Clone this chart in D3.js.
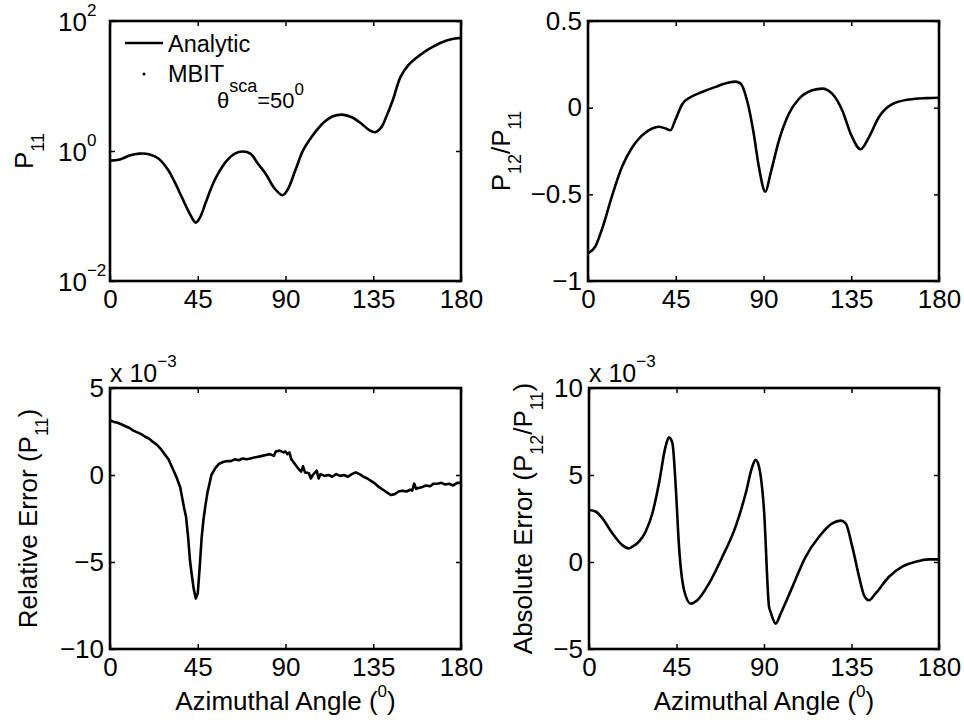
<!DOCTYPE html>
<html>
<head>
<meta charset="utf-8">
<script src="https://cdn.jsdelivr.net/npm/d3@7"></script>
<style>
  body { margin: 0; background: #fff; }
  svg { display: block; }
</style>
</head>
<body>
<svg id="chart" width="964" height="725"></svg>
<script>
// x ticks shared by all four panels
const angleTicks = [0, 45, 90, 135, 180];

// P11 (log scale)
const p11Angle = [0, 5, 10, 15, 20, 25, 30, 33, 37, 41, 44, 46, 49, 52, 55, 60, 64, 68, 72, 76, 80, 84, 88.5, 91, 95, 99, 103, 106, 110, 114, 119, 124, 129, 133, 136, 139, 142, 145, 149, 153, 157, 162, 166, 170, 175, 180];
const p11Value = [0.71, 0.74, 0.85, 0.91, 0.89, 0.76, 0.50, 0.34, 0.19, 0.107, 0.079, 0.093, 0.158, 0.275, 0.427, 0.72, 0.91, 0.98, 0.91, 0.63, 0.44, 0.275, 0.209, 0.251, 0.50, 1.02, 1.58, 2.09, 2.82, 3.39, 3.63, 3.31, 2.63, 2.09, 1.95, 2.29, 3.55, 6.03, 13.8, 20.9, 26.9, 34.7, 40.7, 46.8, 52.5, 55.0];
const p11Ticks = [0.01, 1, 100];
const p11Exp = ['\u22122', '0', '2'];

// P12/P11
const ratioAngle = [0, 3.8, 7.2, 12.3, 17.5, 22.6, 27.7, 32.9, 36.3, 39.7, 42.3, 44.8, 48.3, 52.5, 58.5, 65.4, 72.2, 75.6, 78.2, 81.6, 85, 87.6, 91, 93.6, 97.9, 103, 108.1, 115, 120.1, 125.3, 130.4, 134.7, 139.8, 144.1, 149.2, 156, 164.6, 173.2, 180];
const ratioValue = [-0.84, -0.80, -0.70, -0.51, -0.34, -0.23, -0.16, -0.12, -0.11, -0.12, -0.13, -0.07, 0.02, 0.06, 0.09, 0.12, 0.145, 0.15, 0.14, 0.04, -0.15, -0.34, -0.485, -0.38, -0.19, -0.035, 0.05, 0.10, 0.11, 0.08, -0.016, -0.15, -0.24, -0.17, -0.054, 0.02, 0.047, 0.055, 0.057];
const ratioTicks = [-1, -0.5, 0, 0.5];

// relative error of P11, in units of 1e-3
const relAngle = [0, 2, 4, 6, 8, 10, 12, 14, 16, 18, 20, 22, 24, 26, 28, 30, 32, 34, 36, 37, 38, 39, 40, 41, 42, 43, 44, 45, 46, 47, 48, 49, 50, 51, 52, 54, 56, 58, 60, 62, 64, 66, 68, 70, 72, 74, 76, 78, 80, 82, 84, 85, 87, 89, 90, 91, 92, 93, 95, 97, 98, 99, 100, 102, 103, 104, 106, 107, 108, 110, 112, 114, 116, 118, 120, 122, 124, 126, 128, 130, 132, 134, 136, 138, 140, 142, 144, 146, 148, 150, 152, 154, 155, 156, 157, 158, 160, 162, 164, 166, 168, 170, 172, 174, 176, 178, 180];
const relValue = [3.15, 3.05, 3.0, 2.9, 2.8, 2.7, 2.55, 2.45, 2.35, 2.2, 2.1, 1.9, 1.75, 1.5, 1.2, 0.9, 0.4, -0.1, -0.7, -1.3, -1.9, -2.4, -3.5, -4.9, -5.8, -6.6, -7.1, -6.8, -5.3, -3.6, -2.5, -1.7, -1.0, -0.5, 0.0, 0.4, 0.65, 0.75, 0.8, 0.8, 0.9, 0.85, 0.95, 0.9, 0.95, 1.0, 1.05, 1.1, 1.15, 1.2, 1.1, 1.35, 1.4, 1.3, 1.35, 1.2, 1.3, 0.9, 0.6, 0.3, 0.2, 0.5, 0.15, 0.1, -0.2, 0.0, 0.25, -0.2, 0.05, -0.05, 0.0, -0.1, 0.05, -0.05, 0.0, -0.1, 0.05, 0.15, 0.05, -0.1, -0.2, -0.35, -0.5, -0.7, -0.85, -1.0, -1.15, -1.1, -0.95, -0.9, -0.95, -0.85, -0.9, -0.5, -0.8, -0.75, -0.7, -0.6, -0.65, -0.5, -0.5, -0.45, -0.55, -0.5, -0.6, -0.45, -0.45];
const relTicks = [-10, -5, 0, 5];

// absolute error of P12/P11, in units of 1e-3
const absAngle = [0, 3.4, 6.9, 12, 17.1, 20.6, 22.3, 25.7, 29.1, 32.6, 36, 39.4, 41.1, 42.9, 44.6, 46.3, 48.9, 52.3, 55.7, 61.7, 68.6, 75.4, 80.6, 84, 85.7, 87.4, 90, 92.6, 93.4, 96, 98.6, 104.6, 111.4, 118.3, 125.1, 129.4, 132, 135.4, 138.9, 141.4, 144, 147.4, 154.3, 161.1, 168, 174.9, 180];
const absValue = [2.99, 2.9, 2.51, 1.65, 0.97, 0.78, 0.88, 1.17, 1.74, 2.8, 4.53, 6.64, 7.16, 6.83, 4.34, 0.88, -1.62, -2.39, -2.2, -1.24, 0.3, 2.03, 3.95, 5.49, 5.87, 5.49, 2.99, -2.58, -2.87, -3.54, -2.96, -1.43, 0.3, 1.45, 2.22, 2.38, 2.22, 0.88, -0.85, -1.9, -2.2, -1.81, -0.85, -0.27, 0.01, 0.15, 0.15];
const absTicks = [-5, 0, 5, 10];

const FONT = '"Liberation Sans", Arial, Helvetica, sans-serif';
const svg = d3.select('#chart');

// text made of runs, each run may be raised (sup) or lowered (sub)
function richText(parent, parts, size) {
  const t = parent.append('text')
    .attr('font-family', FONT).attr('font-size', size)
    .attr('fill', '#000').attr('text-anchor', 'start');
  let shift = 0;
  parts.forEach(p => {
    const s = p.shift || 0;
    t.append('tspan')
      .attr('dy', s - shift)
      .attr('font-size', p.size || size)
      .text(p.t);
    shift = s;
  });
  return t;
}

function drawPanel(p) {
  const x = d3.scaleLinear().domain([0, 180]).range([p.left, p.right]);
  const y = (p.log ? d3.scaleLog() : d3.scaleLinear()).domain(p.yDomain).range([p.bottom, p.top]);
  const g = svg.append('g');
  const none = () => '';

  g.append('g').attr('transform', `translate(0,${p.bottom})`)
    .call(d3.axisBottom(x).tickValues(angleTicks).tickFormat(d3.format('d'))
      .tickSizeInner(-5).tickSizeOuter(0).tickPadding(9));
  g.append('g').attr('transform', `translate(0,${p.top})`)
    .call(d3.axisTop(x).tickValues(angleTicks).tickFormat(none).tickSizeInner(-5).tickSizeOuter(0));
  const left = g.append('g').attr('transform', `translate(${p.left},0)`)
    .call(d3.axisLeft(y).tickValues(p.yTicks).tickFormat(p.log ? none : d3.format(''))
      .tickSizeInner(-5).tickSizeOuter(0).tickPadding(6));
  g.append('g').attr('transform', `translate(${p.right},0)`)
    .call(d3.axisRight(y).tickValues(p.yTicks).tickFormat(none).tickSizeInner(-5).tickSizeOuter(0));

  g.selectAll('.domain').remove();
  g.selectAll('.tick line').attr('stroke', '#000').attr('stroke-width', 1.5);
  g.selectAll('.tick text').attr('font-family', FONT).attr('font-size', 26).attr('fill', '#000');

  if (p.log) {
    left.selectAll('.tick').each(function (d, i) {
      richText(d3.select(this), [{ t: '10' }, { t: p11Exp[i], size: 17, shift: -15 }], 26)
        .attr('x', 58 - p.left).attr('y', 9);
    });
  }

  const line = d3.line()
    .x(d => x(d[0]))
    .y(d => y(d[1]))
    .curve(p.curve);
  g.append('path')
    .datum(d3.zip(p.xs, p.ys))
    .attr('d', line)
    .attr('fill', 'none')
    .attr('stroke', '#000')
    .attr('stroke-width', 2.6)
    .attr('stroke-linejoin', 'round');

  g.append('rect')
    .attr('x', p.left).attr('y', p.top)
    .attr('width', p.right - p.left).attr('height', p.bottom - p.top)
    .attr('fill', 'none').attr('stroke', '#000').attr('stroke-width', 2.6);

  // y label, rotated
  richText(g, p.yLabel, 26)
    .attr('text-anchor', 'middle')
    .attr('transform', `translate(${p.yLabelX},${(p.top + p.bottom) / 2}) rotate(-90)`);

  if (p.xLabel) {
    richText(g, [{ t: 'Azimuthal Angle (' }, { t: '0', size: 17, shift: -13 }, { t: ')' }], 26)
      .attr('text-anchor', 'middle')
      .attr('x', (p.left + p.right) / 2).attr('y', 710);
  }
  if (p.scaleNote) {
    richText(g, [{ t: 'x 10' }, { t: '\u22123', size: 17, shift: -15 }], 25)
      .attr('x', p.left).attr('y', 382);
  }
  return { x, y, g };
}

const top1 = drawPanel({
  left: 110, right: 461, top: 21, bottom: 281,
  log: true, yDomain: [0.01, 100], yTicks: p11Ticks,
  xs: p11Angle, ys: p11Value, curve: d3.curveCatmullRom.alpha(0.5),
  yLabel: [{ t: 'P' }, { t: '11', size: 18, shift: 11 }], yLabelX: 33
});

drawPanel({
  left: 588, right: 939, top: 21, bottom: 281,
  yDomain: [-1, 0.5], yTicks: ratioTicks,
  xs: ratioAngle, ys: ratioValue, curve: d3.curveMonotoneX,
  yLabel: [{ t: 'P' }, { t: '12', size: 18, shift: 11 }, { t: '/P' }, { t: '11', size: 18, shift: 11 }], yLabelX: 510
});

drawPanel({
  left: 110, right: 461, top: 388, bottom: 649,
  yDomain: [-10, 5], yTicks: relTicks,
  xs: relAngle, ys: relValue, curve: d3.curveLinear,
  yLabel: [{ t: 'Relative Error (P' }, { t: '11', size: 18, shift: 11 }, { t: ')' }], yLabelX: 37,
  xLabel: true, scaleNote: true
});

drawPanel({
  left: 589, right: 939, top: 388, bottom: 649,
  yDomain: [-5, 10], yTicks: absTicks,
  xs: absAngle, ys: absValue, curve: d3.curveMonotoneX,
  yLabel: [{ t: 'Absolute Error (P' }, { t: '12', size: 18, shift: 11 }, { t: '/P' }, { t: '11', size: 18, shift: 11 }, { t: ')' }], yLabelX: 532,
  xLabel: true, scaleNote: true
});

// legend and annotation of the first panel
const lg = top1.g.append('g');
lg.append('line').attr('x1', 125).attr('x2', 163).attr('y1', 43).attr('y2', 43)
  .attr('stroke', '#000').attr('stroke-width', 2.6);
lg.append('circle').attr('cx', 144).attr('cy', 74).attr('r', 1.5).attr('fill', '#000');
richText(lg, [{ t: 'Analytic' }], 23.5).attr('x', 168).attr('y', 52);
richText(lg, [{ t: 'MBIT' }], 23.5).attr('x', 168).attr('y', 82);
richText(lg, [
  { t: '\u03b8' },
  { t: 'sca', size: 18, shift: -16 },
  { t: '=50' },
  { t: '0', size: 17, shift: -13 }
], 22).attr('x', 217).attr('y', 108);
</script>
</body>
</html>
